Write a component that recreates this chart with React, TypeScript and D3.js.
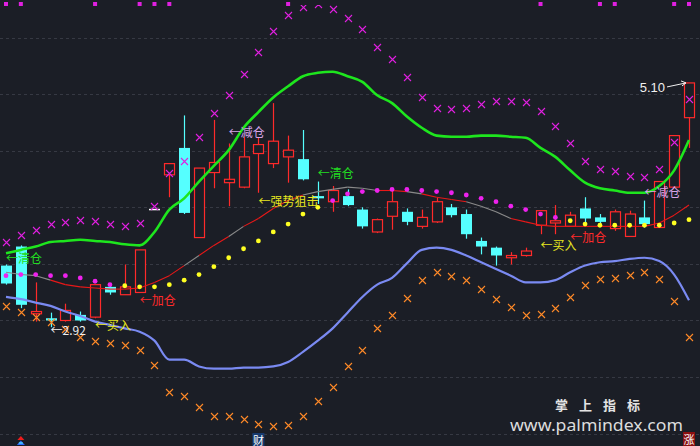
import React, { useEffect } from 'react';
import * as d3 from 'd3';

// ---------- data (price units) ----------
const openP = [3.47,3.64,3.04,3.00,2.98,3.03,3.01,3.28,3.21,3.23,3.97,4.28,4.52,3.72,4.30,4.21,4.17,4.47,4.38,4.44,4.42,4.09,4.04,4.09,3.97,3.77,3.91,3.95,3.82,3.86,3.99,3.93,3.69,3.63,3.54,3.56,3.83,3.85,3.82,3.98,3.90,3.80,3.73,3.90,3.81,4.17,4.79];
const closeP = [3.31,3.12,3.06,2.98,3.07,2.98,3.30,3.23,3.28,3.61,3.97,4.38,3.94,4.34,4.39,4.24,4.44,4.55,4.58,4.50,4.24,4.07,4.14,4.01,3.82,3.88,4.04,3.86,3.90,4.04,3.92,3.75,3.64,3.56,3.56,3.60,3.96,3.87,3.92,3.89,3.86,3.95,3.93,3.84,4.22,4.63,5.10];
const highP = [3.48,3.65,3.32,3.05,3.13,3.06,3.30,3.30,3.48,3.61,3.97,4.38,4.81,4.34,4.77,4.56,4.62,4.61,4.92,4.63,4.68,4.22,4.18,4.15,3.99,3.89,4.15,3.98,3.97,4.08,4.02,3.97,3.72,3.64,3.59,3.63,3.96,4.01,3.95,4.08,3.93,3.97,3.96,4.05,4.22,4.63,5.10];
const lowP = [3.30,3.09,2.97,2.92,2.97,2.97,3.00,3.21,3.21,3.23,3.97,4.08,3.93,3.72,4.16,4.00,4.16,4.12,4.34,4.21,4.23,4.02,3.95,4.00,3.80,3.76,3.79,3.83,3.80,3.85,3.90,3.71,3.57,3.47,3.48,3.55,3.75,3.75,3.82,3.85,3.82,3.78,3.73,3.81,3.81,4.17,4.52];

const upperBand = [3.58,3.61,3.64,3.68,3.69,3.70,3.69,3.68,3.66,3.65,3.77,3.97,4.07,4.22,4.36,4.50,4.70,4.84,4.97,5.07,5.16,5.19,5.20,5.16,5.11,4.99,4.92,4.80,4.70,4.63,4.62,4.62,4.63,4.63,4.62,4.61,4.52,4.44,4.32,4.21,4.16,4.14,4.12,4.12,4.18,4.32,4.59];
const lowerBand = [3.19,3.17,3.14,3.11,3.06,3.02,2.97,2.94,2.91,2.88,2.80,2.63,2.63,2.57,2.55,2.55,2.56,2.56,2.57,2.61,2.70,2.80,2.91,3.05,3.19,3.30,3.36,3.49,3.61,3.63,3.61,3.56,3.50,3.44,3.38,3.32,3.32,3.34,3.41,3.47,3.50,3.51,3.53,3.54,3.51,3.39,3.16];
const midLine = [3.41,3.39,3.38,3.34,3.30,3.28,3.27,3.26,3.26,3.27,3.32,3.38,3.47,3.56,3.65,3.73,3.82,3.89,3.98,4.05,4.10,4.13,4.15,4.17,4.16,4.14,4.14,4.13,4.11,4.08,4.06,4.04,4.00,3.95,3.89,3.86,3.83,3.82,3.82,3.82,3.82,3.82,3.82,3.82,3.85,3.92,4.01];
// segment colour of midLine: 1 = red, 0 = grey
const midSegRed = [0,0,0,1,1,1,1,1,1,1,1,1,0,1,1,0,1,1,1,1,0,0,0,0,0,1,1,0,1,1,1,0,0,0,1,1,1,1,1,1,1,1,1,1,1,1];
const sarP = [3.38,3.39,3.39,3.38,3.38,3.36,3.33,3.30,3.29,3.28,3.28,3.30,3.34,3.39,3.46,3.54,3.62,3.69,3.77,3.84,3.93,3.99,4.05,4.11,4.13,4.14,4.15,4.15,4.14,4.13,4.12,4.10,4.07,4.04,4.00,3.97,3.93,3.90,3.87,3.84,3.83,3.83,3.83,3.83,3.83,3.85,3.88];
// 1 = magenta (above), 0 = yellow (below)
const sarUp = [1,1,1,1,1,1,1,1,0,0,0,0,0,0,0,0,0,0,0,0,0,0,1,1,1,1,1,1,1,1,1,1,1,1,1,1,1,1,0,0,0,0,0,0,0,0,0];
const upperX = [3.68,3.74,3.79,3.84,3.86,3.88,3.87,3.84,3.82,3.85,4.00,4.30,4.40,4.62,4.83,4.99,5.18,5.38,5.56,5.71,5.78,5.80,5.76,5.68,5.58,5.42,5.31,5.15,4.97,4.88,4.87,4.88,4.91,4.94,4.94,4.93,4.85,4.72,4.56,4.40,4.33,4.31,4.27,4.26,4.33,4.57,4.96];
const lowerX = [3.11,3.06,3.01,2.97,2.90,2.83,2.80,2.78,2.76,2.72,2.58,2.34,2.31,2.21,2.13,2.13,2.10,2.06,2.04,2.05,2.13,2.26,2.39,2.57,2.72,2.91,3.03,3.18,3.34,3.41,3.38,3.34,3.26,3.17,3.10,3.03,3.04,3.09,3.19,3.30,3.35,3.36,3.39,3.41,3.35,3.15,2.83];
const topSignals = [0,1,6,9,10,11,19,36,40,41,45,46];
const gridLevels = [5.50,5.00,4.49,3.99,3.48,2.98,2.48,1.97];

const C_GREEN = '#22dd22';
const C_RED = '#ff2a2a';
const C_YEL = '#e8e820';
const C_LAV = '#d6a4e6';
const C_WHITE = '#f0f0f0';
const labels = [
  { t: '←清仓', i: 0, p: 3.54, c: C_GREEN },
  { t: '←清仓', i: 21, p: 4.30, c: C_GREEN },
  { t: '←减仓', i: 15, p: 4.67, c: C_LAV },
  { t: '←减仓', i: 43, p: 4.13, c: C_LAV },
  { t: '←强势狙击', i: 17, p: 4.05, c: C_YEL },
  { t: '←加仓', i: 9, p: 3.17, c: C_RED },
  { t: '←加仓', i: 38, p: 3.73, c: C_RED },
  { t: '←买入', i: 36, p: 3.66, c: C_YEL },
  { t: '←买入', i: 6, p: 2.94, c: C_YEL },
  { t: '←2.92', i: 3, p: 2.90, c: C_WHITE },
];
const maxLabel = { t: '5.10', i: 46, p: 5.10 };

// ---------- layout ----------
const W = 700, H = 446;
const N = openP.length;
const BG = '#1b1e26';
const x = d3.scaleLinear().domain([0, N - 1]).range([6, 689]);
const y = d3.scaleLinear().domain([1.86, 5.84]).range([H, 0]);

export default function App() {
  useEffect(() => { document.body.style.margin = '0'; }, []);
  const idx = d3.range(N);
  const lineGen = d3.line<number>().x((_, i) => x(i)).y(d => y(d)).curve(d3.curveMonotoneX);
  const xMark = (cx: number, cy: number) => `M${cx - 3.5},${cy - 3.5}L${cx + 3.5},${cy + 3.5}M${cx - 3.5},${cy + 3.5}L${cx + 3.5},${cy - 3.5}`;

  return (
    <svg width={W} height={H} style={{ position: 'absolute', left: 0, top: 0, background: BG, display: 'block' }}>
      <defs>
        <clipPath id="plot"><rect x={0} y={5} width={W} height={H - 5} /></clipPath>
      </defs>
      <rect x={0} y={0} width={W} height={H} fill={BG} />
      {gridLevels.map((g, k) => (
        <line key={k} x1={0} x2={W} y1={Math.round(y(g)) + 0.5} y2={Math.round(y(g)) + 0.5} stroke="#363943" strokeDasharray="3,3" strokeWidth={1} />
      ))}

      {/* candles */}
      {idx.map(i => {
        const cx = Math.round(x(i)) + 0.5;
        const o = openP[i], c = closeP[i], h = highP[i], l = lowP[i];
        if (c > o) {
          const top = y(c), bot = y(o);
          return (
            <g key={i} stroke={C_RED} strokeWidth={1.2} fill="none">
              {h > c && <line x1={cx} x2={cx} y1={y(h)} y2={top} />}
              {l < o && <line x1={cx} x2={cx} y1={bot} y2={y(l)} />}
              <rect x={cx - 5} y={top} width={10} height={Math.max(1, bot - top)} fill={BG} />
            </g>
          );
        } else if (c < o) {
          const top = y(o), bot = y(c);
          return (
            <g key={i}>
              <line x1={cx} x2={cx} y1={y(h)} y2={y(l)} stroke="#55ffff" strokeWidth={1.2} />
              <rect x={cx - 5.5} y={top} width={11} height={Math.max(1.5, bot - top)} fill="#55ffff" />
            </g>
          );
        }
        return (
          <g key={i}>
            <line x1={cx - 5.5} x2={cx + 5.5} y1={y(c)} y2={y(c)} stroke="#ffffff" strokeWidth={1.5} />
            {h > l && <line x1={cx} x2={cx} y1={y(h)} y2={y(l)} stroke="#ffffff" strokeWidth={1} />}
          </g>
        );
      })}

      {/* bands */}
      <path d={lineGen(upperBand) || ''} fill="none" stroke="#1ee61e" strokeWidth={2.6} />
      <path d={lineGen(lowerBand) || ''} fill="none" stroke="#7a8af2" strokeWidth={2.2} />
      {idx.slice(0, N - 1).map(i => (
        <line key={i} x1={x(i)} y1={y(midLine[i])} x2={x(i + 1)} y2={y(midLine[i + 1])}
          stroke={midSegRed[i] ? '#e81818' : '#8a8a8a'} strokeWidth={1.1} />
      ))}

      {/* SAR dots */}
      {idx.map(i => (
        <circle key={i} cx={x(i)} cy={y(sarP[i])} r={2.4} fill={sarUp[i] ? '#ee22ee' : '#ffff22'} />
      ))}

      {/* X markers */}
      <g clipPath="url(#plot)">
        {idx.map(i => (
          <path key={'u' + i} d={xMark(Math.round(x(i)) + 0.5, Math.round(y(upperX[i])) + 0.5)} stroke="#e020e0" strokeWidth={1.1} fill="none" />
        ))}
        {idx.map(i => (
          <path key={'l' + i} d={xMark(Math.round(x(i)) + 0.5, Math.round(y(lowerX[i])) + 0.5)} stroke="#ff8a28" strokeWidth={1.1} fill="none" />
        ))}
      </g>

      {/* top signal squares */}
      {topSignals.map(i => (
        <rect key={i} x={x(i) - 2} y={2} width={4} height={4} fill="#e020e0" />
      ))}

      {/* labels */}
      {labels.map((lb, k) => (
        <text key={k} x={x(lb.i)} y={y(lb.p)} fill={lb.c} fontSize={12}
          fontFamily="'Noto Sans CJK SC', 'Noto Sans', sans-serif" dominantBaseline="central">{lb.t}</text>
      ))}
      <text x={x(maxLabel.i) - 24} y={y(maxLabel.p) + 5} fill={C_WHITE} fontSize={13} textAnchor="end"
        fontFamily="'Liberation Sans', Arial, sans-serif" dominantBaseline="central">{maxLabel.t}</text>
      <line x1={x(maxLabel.i) - 22} y1={y(maxLabel.p) + 4} x2={x(maxLabel.i) - 3} y2={y(maxLabel.p)} stroke={C_WHITE} strokeWidth={1} />
      <path d={`M${x(maxLabel.i) - 8},${y(maxLabel.p) - 2}L${x(maxLabel.i) - 3},${y(maxLabel.p)}L${x(maxLabel.i) - 7},${y(maxLabel.p) + 3}`} stroke={C_WHITE} strokeWidth={1} fill="none" />

      {/* watermark */}
      <text x={555} y={404.5} fill="#e4e4e4" fontSize={13} fontWeight="bold" textLength={85} lengthAdjust="spacing"
        fontFamily="'Noto Sans CJK SC', sans-serif" dominantBaseline="central">掌上指标</text>
      <text x={510} y={424.5} fill="#dcdcdc" fontSize={17} textLength={173} lengthAdjust="spacingAndGlyphs"
        fontFamily="'Noto Sans', 'DejaVu Sans', sans-serif" dominantBaseline="central">www.palmindex.com</text>

      {/* bottom markers */}
      <g>
        <rect x={x(17) - 6} y={433} width={12} height={13} fill="#173a6e" />
        <text x={x(17)} y={439.5} fill="#ffffff" fontSize={11} textAnchor="middle" dominantBaseline="central"
          fontFamily="'Noto Sans CJK SC', sans-serif">财</text>
        <rect x={x(46) - 6} y={432} width={12} height={14} fill="#8a1010" />
        <text x={x(46)} y={439} fill="#ffffff" fontSize={11} textAnchor="middle" dominantBaseline="central"
          fontFamily="'Noto Sans CJK SC', sans-serif">涨</text>
        <path d={`M${x(1) - 3.5},${440}L${x(1)},${436}L${x(1) + 3.5},${440}Z`} fill="#ee1c1c" />
        <path d={`M${x(1) - 4},${445}L${x(1)},${440.5}L${x(1) + 4},${445}Z`} fill="#2a6cff" />
        <line x1={x(1) - 2} x2={x(1) + 2} y1={443} y2={443} stroke="#55ffff" strokeWidth={1} />
      </g>
    </svg>
  );
}
